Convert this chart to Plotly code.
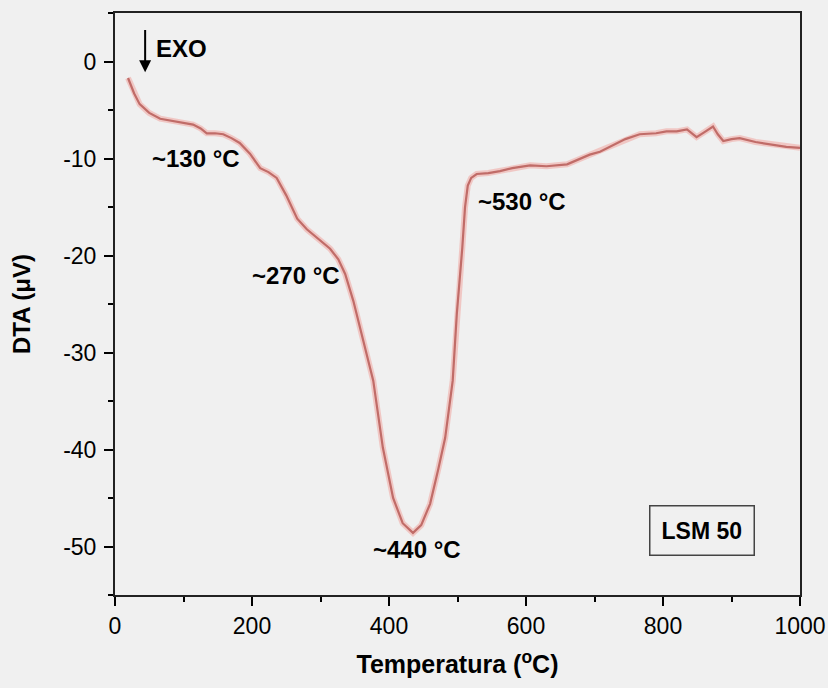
import plotly.graph_objects as go

temperature = [19, 28, 36, 50, 66, 90, 114, 125, 134, 146, 158, 170, 182, 197, 212, 224, 236, 250, 266, 280,
               295, 314, 326, 336, 348, 362, 377, 391, 406, 420, 435, 447, 460, 472, 482, 493, 499, 507, 511,
               515, 520, 528, 545, 562, 580, 606, 630, 660, 680, 693, 708, 727, 745, 766, 790, 805, 820, 835,
               849, 860, 873, 880, 888, 900, 912, 935, 961, 980, 1000]
dta = [-1.7, -3.3, -4.4, -5.3, -5.9, -6.2, -6.5, -6.9, -7.4, -7.4, -7.5, -7.9, -8.4, -9.5, -11.0, -11.4, -12.0,
       -13.8, -16.2, -17.3, -18.2, -19.3, -20.4, -21.9, -24.7, -28.8, -32.9, -39.8, -45.0, -47.6, -48.6, -47.8,
       -45.6, -42.0, -38.8, -32.9, -26.0, -19.2, -15.0, -12.8, -12.0, -11.6, -11.5, -11.3, -11.0, -10.7, -10.8,
       -10.6, -10.0, -9.6, -9.3, -8.6, -8.0, -7.5, -7.4, -7.2, -7.2, -7.0, -7.8, -7.3, -6.7, -7.5, -8.2, -8.0,
       -7.9, -8.3, -8.6, -8.8, -8.9]

x_ticks = [0, 200, 400, 600, 800, 1000]
x_tick_text = ["0", "200", "400", "600", "800", "1000"]
y_ticks = [0, -10, -20, -30, -40, -50]
y_tick_text = ["0", "-10", "-20", "-30", "-40", "-50"]

peak_labels = ["~130 °C", "~270 °C", "~440 °C", "~530 °C"]
peak_x = [51, 331, 441, 527]
peak_y = [-10.0, -22.1, -50.3, -14.4]
peak_anchor = ["left", "right", "center", "left"]

FONT = "Arial, Liberation Sans"

fig = go.Figure()
fig.add_trace(go.Scatter(x=temperature, y=dta, mode="lines",
                         line=dict(color="rgba(240,165,160,0.55)", width=6), hoverinfo="skip", showlegend=False))
fig.add_trace(go.Scatter(x=temperature, y=dta, mode="lines",
                         line=dict(color="rgb(192,108,104)", width=2.2), showlegend=False))

for t, xx, yy, anc in zip(peak_labels, peak_x, peak_y, peak_anchor):
    fig.add_annotation(x=xx, y=yy, text="<b>%s</b>" % t, showarrow=False, xanchor=anc, yanchor="middle",
                       font=dict(family=FONT, size=24, color="black"))

fig.add_annotation(x=57, y=1.3, text="<b>EXO</b>", showarrow=False, xanchor="left", yanchor="middle",
                   font=dict(family=FONT, size=24, color="black"))
fig.add_annotation(x=44, y=-1.1, ax=44, ay=3.4, xref="x", yref="y", axref="x", ayref="y",
                   text="", showarrow=True, arrowhead=2, arrowsize=1.2, arrowwidth=2, arrowcolor="black")
fig.add_annotation(x=857, y=-48.4, text="<b>LSM 50</b>", showarrow=False, xanchor="center", yanchor="middle",
                   font=dict(family=FONT, size=23, color="black"),
                   bordercolor="#444", borderwidth=1.5, borderpad=11, bgcolor="rgba(0,0,0,0)")

axis_font = dict(family=FONT, size=23, color="black")
fig.update_xaxes(range=[0, 1000], tickvals=x_ticks, ticktext=x_tick_text, ticks="outside", ticklen=9,
                 tickwidth=2, tickcolor="black", showline=True, linecolor="#222", linewidth=2, mirror=True,
                 showgrid=False, zeroline=False, tickfont=axis_font, automargin=False,
                 minor=dict(dtick=100, ticks="outside", ticklen=5, tickwidth=1.5, tickcolor="black"),
                 title=dict(text="<b>Temperatura (<sup>o</sup>C)</b>", standoff=18,
                            font=dict(family=FONT, size=25, color="black")))
fig.update_yaxes(range=[-55, 5], tickvals=y_ticks, ticktext=y_tick_text, ticks="outside", ticklen=9,
                 tickwidth=2, tickcolor="black", showline=True, linecolor="#222", linewidth=2, mirror=True,
                 showgrid=False, zeroline=False, tickfont=axis_font, automargin=False, ticklabelstandoff=3,
                 minor=dict(dtick=5, ticks="outside", ticklen=5, tickwidth=1.5, tickcolor="black"),
                 title=dict(text="<b>DTA (μV)</b>", standoff=26,
                            font=dict(family=FONT, size=24, color="black")))

fig.update_layout(width=828, height=688, margin=dict(l=115, r=28, t=13, b=93),
                  paper_bgcolor="#f0f0f0", plot_bgcolor="#f0f0f0", showlegend=False)
fig.write_html("out.html", config={"displayModeBar": False},
               post_script="document.body.style.margin='0';document.body.style.background='#f0f0f0';")
